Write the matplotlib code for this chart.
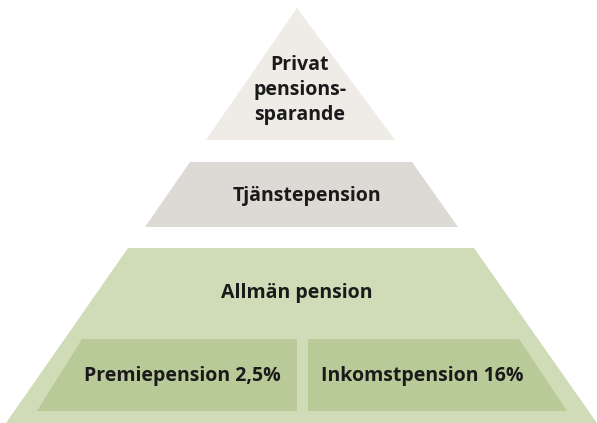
import matplotlib.pyplot as plt
from matplotlib.patches import Polygon

# pyramid tiers, top to bottom
tier_labels = ["Privat\npensions-\nsparande", "Tjänstepension", "Allmän pension"]
tier_colors = ["#efebe7", "#ddd9d4", "#d0dcb8"]
# sub-parts of the bottom tier
sub_labels = ["Premiepension 2,5%", "Inkomstpension 16%"]
sub_color = "#b8ca98"

plt.rcParams['font.family'] = ['Open Sans', 'DejaVu Sans']

fig = plt.figure(figsize=(5.97, 4.23), dpi=100)
ax = fig.add_axes([0, 0, 1, 1])
ax.set_xlim(0, 597)
ax.set_ylim(423, 0)
ax.axis('off')

# outlines of each tier (pixel coordinates of the diagram)
shapes = [
    [(297, 8), (395, 140), (206, 140)],
    [(190, 162), (412, 162), (458, 227), (145, 227)],
    [(128, 248), (474, 248), (597, 423), (6, 423)],
]
label_pos = [(300, 90), (307, 196), (297, 293)]

for pts, col, lab, (tx, ty) in zip(shapes, tier_colors, tier_labels, label_pos):
    ax.add_patch(Polygon(pts, closed=True, facecolor=col, edgecolor='none'))
    ax.text(tx, ty, lab, ha='center', va='center', fontsize=14,
            fontweight='bold', color='#1a1a1a', linespacing=1.35)

sub_shapes = [
    [(82, 339), (297, 339), (297, 411), (37, 411)],
    [(308, 339), (519, 339), (567, 411), (308, 411)],
]
sub_pos = [(182, 376), (422, 376)]
for pts, lab, (tx, ty) in zip(sub_shapes, sub_labels, sub_pos):
    ax.add_patch(Polygon(pts, closed=True, facecolor=sub_color, edgecolor='none'))
    ax.text(tx, ty, lab, ha='center', va='center', fontsize=14,
            fontweight='bold', color='#1a1a1a')

fig.savefig('out.png', dpi=100)
